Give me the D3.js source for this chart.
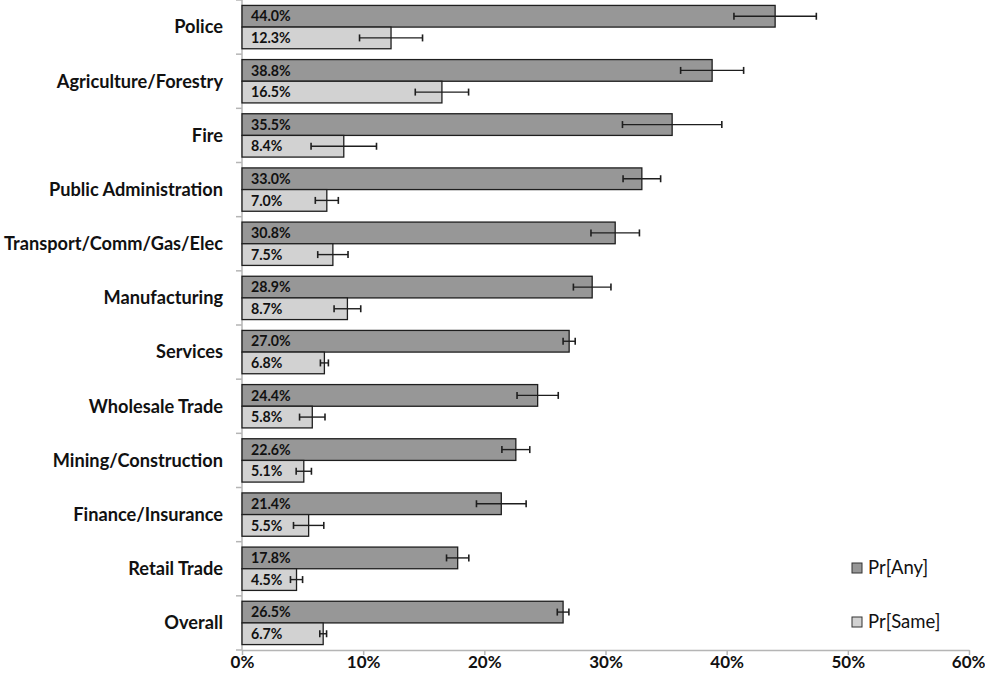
<!DOCTYPE html>
<html>
<head>
<meta charset="utf-8">
<script src="https://cdn.jsdelivr.net/npm/d3@7"></script>
<style>
  body { margin: 0; background: #fff; }
  text { font-family: Lato, "Open Sans", sans-serif; fill: #111; }
</style>
</head>
<body>
<div class="chart"></div>
<script>
var svgWidth = 985;
var svgHeight = 681;

var margin = { top: 0, right: 16, bottom: 31, left: 242 };

var width = svgWidth - margin.left - margin.right;
var height = svgHeight - margin.top - margin.bottom;

// data (percent)
var categories = ["Police", "Agriculture/Forestry", "Fire", "Public Administration",
  "Transport/Comm/Gas/Elec", "Manufacturing", "Services", "Wholesale Trade",
  "Mining/Construction", "Finance/Insurance", "Retail Trade", "Overall"];
var anyValues = [44.0, 38.8, 35.5, 33.0, 30.8, 28.9, 27.0, 24.4, 22.6, 21.4, 17.8, 26.5];
var sameValues = [12.3, 16.5, 8.4, 7.0, 7.5, 8.7, 6.8, 5.8, 5.1, 5.5, 4.5, 6.7];
var anyErrors = [3.4, 2.6, 4.1, 1.55, 2.0, 1.55, 0.5, 1.7, 1.15, 2.05, 0.92, 0.48];
var sameErrors = [2.6, 2.2, 2.7, 0.95, 1.25, 1.1, 0.33, 1.05, 0.63, 1.25, 0.5, 0.28];
var seriesNames = ["Pr[Any]", "Pr[Same]"];
var xTicks = [0, 10, 20, 30, 40, 50, 60];

var colors = ["#979797", "#d2d2d2"];

var svg = d3.select(".chart")
  .append("svg")
  .attr("width", svgWidth)
  .attr("height", svgHeight);

var chartGroup = svg.append("g")
  .attr("transform", `translate(${margin.left}, ${margin.top})`);

var xScale = d3.scaleLinear().domain([0, 60]).range([0, width]);

var yScale = d3.scaleBand()
  .domain(categories)
  .range([0, height])
  .paddingInner(0.2)
  .paddingOuter(0.1);

var subScale = d3.scaleBand()
  .domain([0, 1])
  .range([0, yScale.bandwidth()]);

// rows: one per category, two bars each
var rows = categories.map(function(c, i) {
  return [
    { cat: c, s: 0, v: anyValues[i], e: anyErrors[i] },
    { cat: c, s: 1, v: sameValues[i], e: sameErrors[i] }
  ];
});
var bars = d3.merge(rows);

// x axis
var xAxis = chartGroup.append("g")
  .attr("transform", `translate(0, ${height})`)
  .call(d3.axisBottom(xScale).tickValues(xTicks).tickSize(5).tickSizeOuter(0)
    .tickFormat(d => d + "%"));
xAxis.select(".domain").attr("stroke", "#b5b5b5").attr("stroke-width", 1.5);
xAxis.selectAll(".tick line").attr("stroke", "#b5b5b5").attr("stroke-width", 1.5);
xAxis.selectAll(".tick text")
  .attr("dy", "0.71em")
  .attr("y", 6)
  .style("font-size", "17px")
  .style("font-weight", "bold");
// last label would be cut at the edge; keep it inside like the reference
xAxis.selectAll(".tick text").filter(d => d === 60).attr("text-anchor", "end").attr("x", 16);

// y axis with ticks at band boundaries
var yAxisG = chartGroup.append("g");
yAxisG.append("line")
  .attr("x1", 0).attr("x2", 0)
  .attr("y1", 0).attr("y2", height)
  .attr("stroke", "#b5b5b5").attr("stroke-width", 1.5);
var step = yScale.step();
yAxisG.selectAll(".ytick")
  .data(d3.range(categories.length + 1))
  .enter()
  .append("line")
  .attr("x1", -6).attr("x2", 0)
  .attr("y1", d => d * step)
  .attr("y2", d => d * step)
  .attr("stroke", "#b5b5b5").attr("stroke-width", 1.5);

// category labels
chartGroup.selectAll(".catLabel")
  .data(categories)
  .enter()
  .append("text")
  .attr("x", -19)
  .attr("y", d => yScale(d) + yScale.bandwidth() / 2)
  .attr("dy", "0.35em")
  .attr("text-anchor", "end")
  .style("font-size", "18.2px")
  .style("font-weight", "bold")
  .text(d => d);

// bars
chartGroup.selectAll(".bar")
  .data(bars)
  .enter()
  .append("rect")
  .attr("x", xScale(0))
  .attr("y", d => yScale(d.cat) + subScale(d.s))
  .attr("width", d => xScale(d.v) - xScale(0))
  .attr("height", subScale.bandwidth())
  .attr("fill", d => colors[d.s])
  .attr("stroke", "#1e1e1e")
  .attr("stroke-width", 1.3);

// error bars
var errG = chartGroup.selectAll(".err")
  .data(bars)
  .enter()
  .append("g")
  .attr("transform", d => `translate(0, ${yScale(d.cat) + subScale(d.s) + subScale.bandwidth() / 2})`);
errG.append("line")
  .attr("x1", d => xScale(d.v - d.e))
  .attr("x2", d => xScale(d.v + d.e))
  .attr("stroke", "#1e1e1e").attr("stroke-width", 1.4);
errG.append("line")
  .attr("x1", d => xScale(d.v - d.e)).attr("x2", d => xScale(d.v - d.e))
  .attr("y1", -3.5).attr("y2", 3.5)
  .attr("stroke", "#1e1e1e").attr("stroke-width", 1.6);
errG.append("line")
  .attr("x1", d => xScale(d.v + d.e)).attr("x2", d => xScale(d.v + d.e))
  .attr("y1", -3.5).attr("y2", 3.5)
  .attr("stroke", "#1e1e1e").attr("stroke-width", 1.6);

// value labels inside bars
chartGroup.selectAll(".valLabel")
  .data(bars)
  .enter()
  .append("text")
  .attr("x", 9)
  .attr("y", d => yScale(d.cat) + subScale(d.s) + subScale.bandwidth() / 2)
  .attr("dy", "0.36em")
  .style("font-size", "14.2px")
  .style("font-weight", "bold")
  .text(d => d.v.toFixed(1) + "%");

// legend
var legend = svg.append("g")
  .attr("transform", "translate(852, 568)");
var legendItems = legend.selectAll(".leg")
  .data(seriesNames)
  .enter()
  .append("g")
  .attr("transform", (d, i) => `translate(0, ${i * 54})`);
legendItems.append("rect")
  .attr("x", 0).attr("y", -5)
  .attr("width", 10).attr("height", 10)
  .attr("fill", (d, i) => colors[i])
  .attr("stroke", "#333").attr("stroke-width", 1);
legendItems.append("text")
  .attr("x", 16)
  .attr("y", 0)
  .attr("dy", "0.35em")
  .style("font-size", "18.5px")
  .text(d => d);
</script>
</body>
</html>
